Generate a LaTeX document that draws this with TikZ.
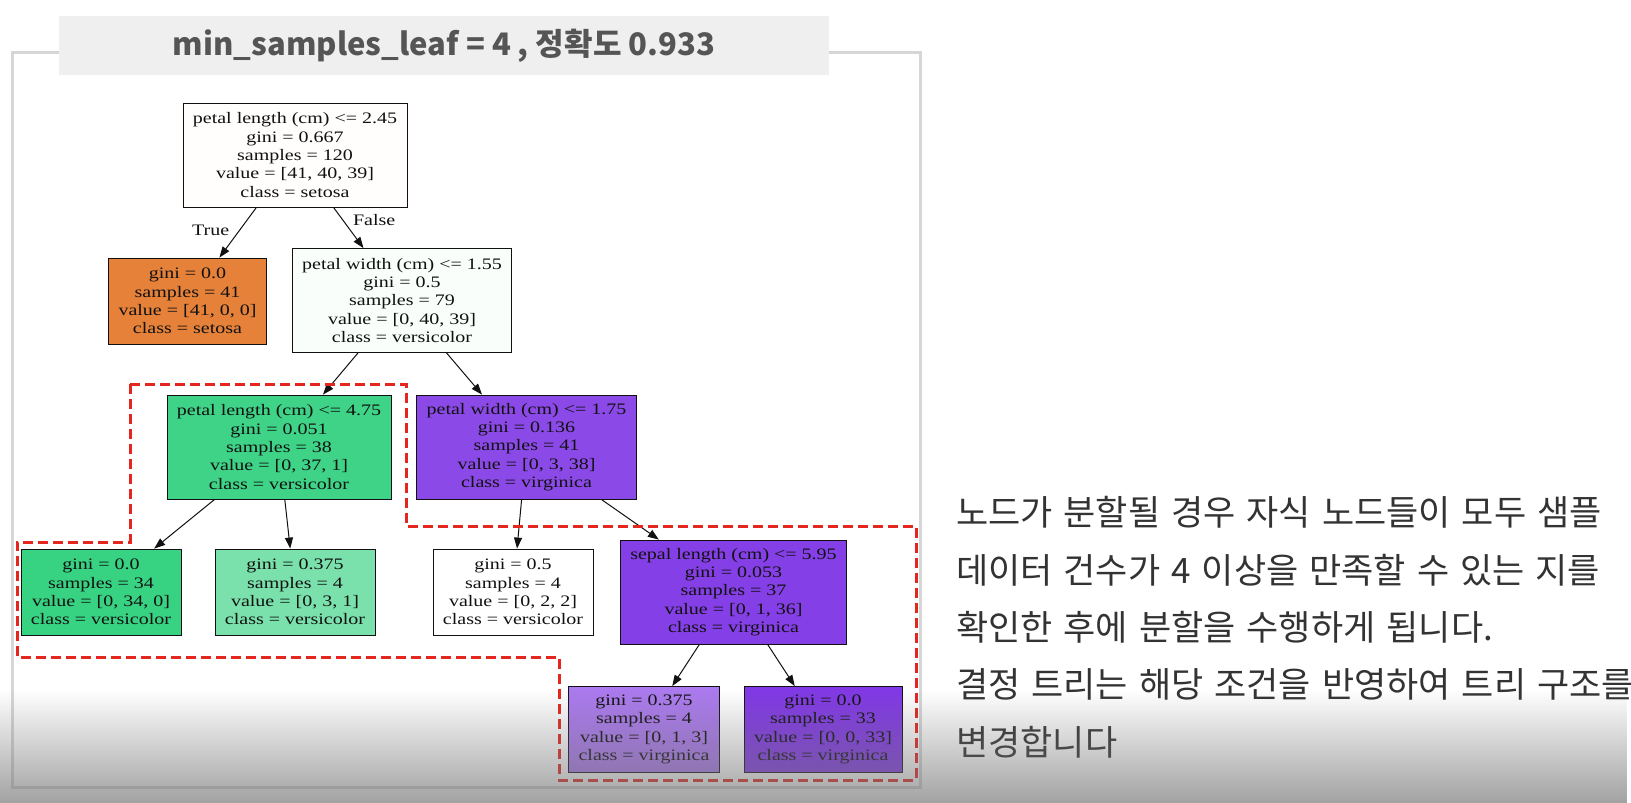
\documentclass[tikz,border=0pt]{standalone}
\usepackage{fontspec}
\usepackage{tikz}
\usetikzlibrary{arrows.meta,fadings}
\newfontfamily\treefont[FakeStretch=1.25]{Liberation Serif}
\newfontfamily\krfont{Noto Sans CJK KR}
\newcommand\notefont{\krfont\fontsize{35}{40}\selectfont\spaceskip=11pt\relax}
\definecolor{INK}{HTML}{111111}
\definecolor{SETOSA}{HTML}{E58139}
\definecolor{VERSI}{HTML}{38D283}
\definecolor{VIRGI}{HTML}{8139E5}
\definecolor{FRAME}{HTML}{D6D6D6}
\definecolor{BAR}{HTML}{EFEFEF}
\definecolor{TITLE}{HTML}{555555}
\definecolor{MARK}{HTML}{E5261F}
\definecolor{TXT}{HTML}{333333}
\tikzfading[name=fadeup,top color=transparent!100,bottom color=transparent!0]

\begin{document}
\begin{tikzpicture}[x=1pt,y=-1pt]
\tikzset{tn/.style={draw=INK,line width=0.8pt,align=center,inner xsep=10pt,font=\treefont\fontsize{16}{18.3}\selectfont,text=INK},
 split/.style={tn,minimum height=104pt},leaf/.style={tn,minimum height=86pt},
 edge/.style={line width=1pt,INK,-{Triangle[length=11pt,width=8pt]}},
 lbl/.style={font=\treefont\fontsize{16}{18.3}\selectfont,text=INK,inner sep=1pt},
 note/.style={font=\notefont,text=TXT,anchor=west,inner sep=0pt}}
\useasboundingbox (0,0) rectangle (1631,803);
\fill[white] (0,0) rectangle (1631,803);
% frame and title bar
\draw[FRAME,line width=3pt] (12.5,52) rectangle (920,787);
\fill[BAR] (59,16) rectangle (829,75);
\node[font=\krfont\bfseries\fontsize{31}{36}\selectfont,text=TITLE] (title) at (444,46) {min\_samples\_leaf = 4 , 정확도 0.933};
% tree
\node[split,fill=SETOSA!1!white] (root) at (295,155) {petal length (cm) <= 2.45\\gini = 0.667\\samples = 120\\value = [41, 40, 39]\\class = setosa};
\node[leaf,fill=SETOSA] (lset) at (187.5,301) {gini = 0.0\\samples = 41\\value = [41, 0, 0]\\class = setosa};
\node[split,fill=VERSI!3!white] (pw1) at (402,300.5) {petal width (cm) <= 1.55\\gini = 0.5\\samples = 79\\value = [0, 40, 39]\\class = versicolor};
\node[split,fill=VERSI!97!white] (pl2) at (279,447) {petal length (cm) <= 4.75\\gini = 0.051\\samples = 38\\value = [0, 37, 1]\\class = versicolor};
\node[split,fill=VIRGI!92!white] (pw2) at (526.5,447) {petal width (cm) <= 1.75\\gini = 0.136\\samples = 41\\value = [0, 3, 38]\\class = virginica};
\node[leaf,fill=VERSI] (lver1) at (101,592) {gini = 0.0\\samples = 34\\value = [0, 34, 0]\\class = versicolor};
\node[leaf,fill=VERSI!67!white] (lver2) at (295,592) {gini = 0.375\\samples = 4\\value = [0, 3, 1]\\class = versicolor};
\node[leaf,fill=white] (lmix) at (513,592) {gini = 0.5\\samples = 4\\value = [0, 2, 2]\\class = versicolor};
\node[split,fill=VIRGI!97!white] (sl3) at (733.5,592) {sepal length (cm) <= 5.95\\gini = 0.053\\samples = 37\\value = [0, 1, 36]\\class = virginica};
\node[leaf,fill=VIRGI!67!white] (lvir1) at (644,729.5) {gini = 0.375\\samples = 4\\value = [0, 1, 3]\\class = virginica};
\node[leaf,fill=VIRGI] (lvir2) at (823,729.5) {gini = 0.0\\samples = 33\\value = [0, 0, 33]\\class = virginica};
\draw[edge] (root) -- node[lbl,pos=0.45,left=9pt]{True} (lset);
\draw[edge] (root) -- node[lbl,pos=0.3,right=9pt]{False} (pw1);
\draw[edge] (pw1) -- (pl2);
\draw[edge] (pw1) -- (pw2);
\draw[edge] (pl2) -- (lver1);
\draw[edge] (pl2) -- (lver2);
\draw[edge] (pw2) -- (lmix);
\draw[edge] (pw2) -- (sl3);
\draw[edge] (sl3) -- (lvir1);
\draw[edge] (sl3) -- (lvir2);
% red dashed outline
\draw[MARK,line width=3pt,dash pattern=on 10pt off 5pt] (130,384) -- (406,384) -- (406,526) -- (916,526) -- (916,780)
 -- (559,780) -- (559,657) -- (17,657) -- (17,542) -- (130,542) -- cycle;
% explanation
\node[note] (t1) at (956,512) {노드가 분할될 경우 자식 노드들이 모두 샘플};
\node[note] (t2) at (956,570) {데이터 건수가 4 이상을 만족할 수 있는 지를};
\node[note] (t3) at (956,627) {확인한 후에 분할을 수행하게 됩니다.};
\node[note] (t4) at (956,684) {결정 트리는 해당 조건을 반영하여 트리 구조를};
\node[note] (t5) at (956,742) {변경합니다};
% bottom shadow
\fill[black!55,path fading=fadeup] (0,690) rectangle (1631,860);
\end{tikzpicture}
\end{document}
